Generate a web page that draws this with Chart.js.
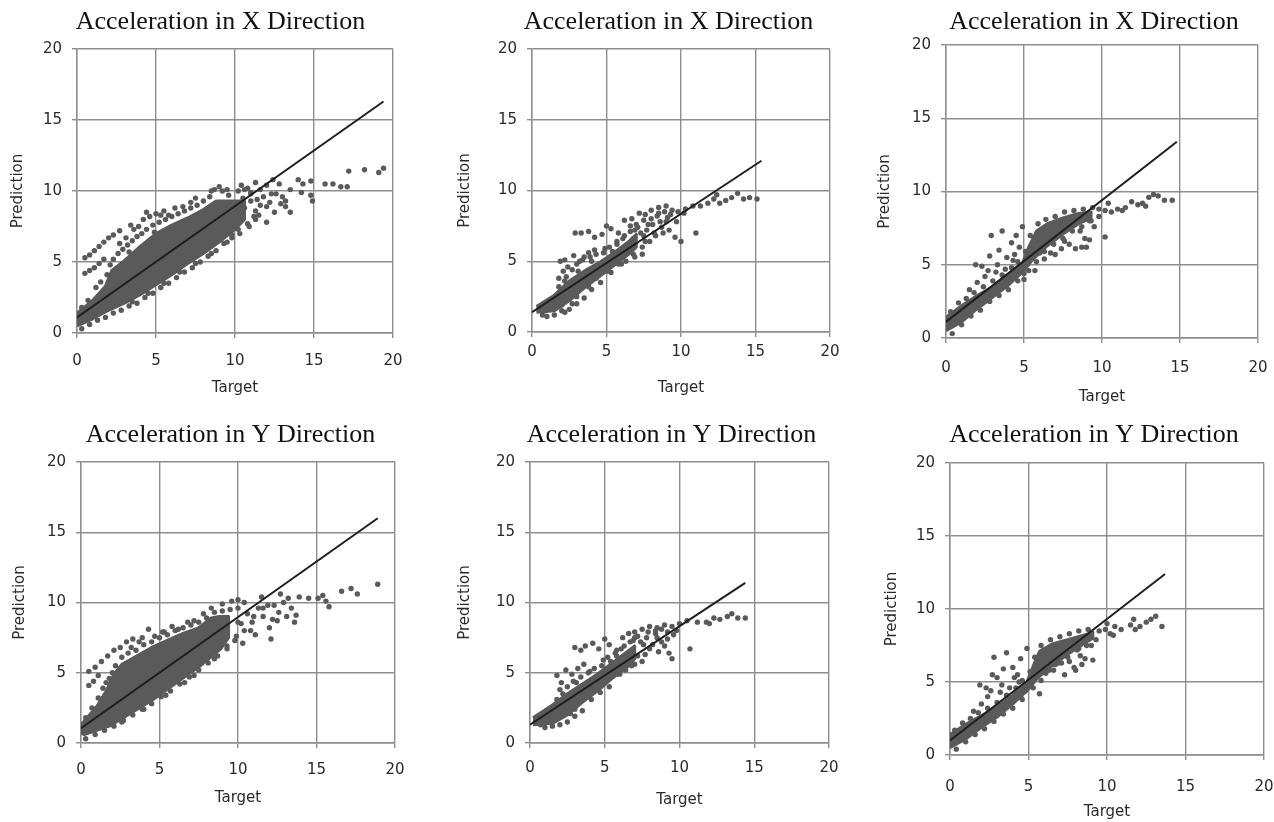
<!DOCTYPE html>
<html>
<head>
<meta charset="utf-8">
<script src="https://cdn.jsdelivr.net/npm/chart.js@4.4.1/dist/chart.umd.min.js"></script>
<style>
html, body { margin: 0; padding: 0; background: #fff; width: 1274px; height: 822px; overflow: hidden; }
canvas { position: absolute; }
</style>
</head>
<body>
<script>
// tick labels shared by both axes of every panel
const axisTicks = [0, 5, 10, 15, 20];
const titles = [
	'Acceleration in X Direction', 'Acceleration in X Direction', 'Acceleration in X Direction',
	'Acceleration in Y Direction', 'Acceleration in Y Direction', 'Acceleration in Y Direction'
];

// fitted lines [target, prediction]
const x1Trend = [[0, 1.1], [19.4, 16.3]];
const x2Trend = [[0, 1.4], [15.4, 12.1]];
const x3Trend = [[0, 1.1], [14.8, 13.4]];
const y1Trend = [[0, 1.05], [18.9, 16.0]];
const y2Trend = [[0, 1.3], [14.4, 11.4]];
const y3Trend = [[0, 1.0], [13.7, 12.4]];

// outline of the saturated part of each cloud (upper edge, then lower edge back)
const x1Dense = [[0, 1.4], [1, 2.3], [1.8, 3.3], [2.2, 4.4], [3, 5.1], [4, 6.1], [5, 7.0], [6, 7.6], [7, 8.1], [8, 8.7], [8.8, 9.3], [10, 9.3], [10.6, 9.3],
	[10.6, 8.0], [10, 7.3], [9, 6.4], [8, 5.6], [7, 4.9], [6, 4.1], [5, 3.4], [4, 2.7], [3, 2.1], [2, 1.6], [1, 1.0], [0, 0.5]];
const x2Dense = [[0.3, 1.8], [1.5, 2.6], [2.5, 3.6], [3.5, 4.3], [4.5, 4.9], [5.5, 5.6], [6.5, 6.4], [7.0, 6.9],
	[7.0, 6.0], [6.5, 5.5], [5.5, 4.7], [4.5, 3.9], [3.5, 3.1], [2.5, 2.2], [1.5, 1.5], [0.3, 1.4]];
const x3Dense = [[0, 1.4], [1, 2.2], [2, 2.9], [3, 3.5], [4, 4.3], [4.9, 5.1], [5.3, 6.2], [5.8, 7.3], [6.5, 7.8], [7.5, 8.2], [8.5, 8.5], [9.3, 8.6],
	[9.3, 8.2], [8.5, 7.8], [7.5, 7.1], [6.5, 6.3], [5.6, 5.4], [5, 4.6], [4, 3.6], [3, 2.8], [2, 2.0], [1, 1.1], [0, 0.5]];
const y1Dense = [[0, 1.3], [1, 2.6], [1.6, 3.7], [2.1, 4.9], [2.6, 5.6], [3.4, 6.1], [4.5, 6.8], [5.5, 7.3], [6.5, 7.8], [7.5, 8.2], [8.3, 8.9], [8.8, 9.0], [9.4, 9.0],
	[9.4, 7.5], [8.9, 6.7], [7.6, 5.5], [6.1, 4.3], [4.6, 3.1], [3.3, 2.2], [1.8, 1.2], [0.2, 0.6], [0, 0.7]];
const y2Dense = [[0.2, 1.8], [1.5, 2.7], [2.5, 3.5], [3.5, 4.2], [4.5, 4.9], [5.5, 5.7], [6.5, 6.5], [7.0, 6.9],
	[7.0, 6.0], [6.5, 5.4], [5.5, 4.6], [4.5, 3.7], [3.5, 2.9], [2.5, 2.0], [1.5, 1.4], [0.2, 1.3]];
const y3Dense = [[0, 1.4], [1, 2.1], [2, 2.7], [3, 3.3], [4, 4.1], [4.9, 5.0], [5.3, 6.1], [5.7, 7.1], [6.5, 7.6], [7.5, 7.9], [8.5, 8.2], [9.1, 8.4],
	[9.1, 8.0], [8.5, 7.6], [7.5, 6.9], [6.5, 6.1], [5.6, 5.3], [5, 4.5], [4, 3.5], [3, 2.6], [2, 1.9], [1, 1.1], [0, 0.5]];

// individual samples outside the saturated part
const x1Points = [[0.5, 5.3], [0.8, 5.5], [1.1, 5.8], [1.4, 6.1], [1.7, 6.4], [2.0, 6.7], [2.3, 6.9], [2.7, 7.2], [0.5, 4.2], [0.8, 4.4], [1.1, 4.6], [1.4, 4.9], [1.7, 5.2],
	[3.4, 7.6], [3.6, 7.3], [4.4, 8.5], [4.2, 8.0], [4.6, 8.2], [5.0, 8.4], [5.5, 8.6], [5.8, 8.3], [6.2, 8.8], [6.7, 8.9], [7.2, 9.2], [7.5, 9.5], [8.5, 10.0], [9.0, 10.3], [9.5, 10.1],
	[10.4, 10.4], [10.8, 10.2], [11.3, 10.6], [11.6, 10.1], [12.0, 10.4], [12.4, 10.8], [12.8, 10.5], [12.3, 9.8], [13.0, 9.6], [13.5, 10.1], [14.0, 10.8], [14.3, 10.5], [14.8, 10.7],
	[14.8, 9.7], [14.9, 9.3], [15.7, 10.5], [16.2, 10.5], [16.7, 10.3], [17.2, 11.4], [17.1, 10.3], [18.2, 11.5], [19.1, 11.3], [19.4, 11.6], [11.6, 9.0], [12.0, 7.8], [12.5, 8.5],
	[13.2, 8.9], [13.5, 8.5], [11.0, 9.3], [10.6, 8.8], [11.2, 8.2], [13.2, 9.3], [14.2, 9.9], [12.9, 9.1],
	[8.5, 5.6], [9.5, 6.4], [10.2, 7.3], [10.8, 7.7], [11.5, 8.3], [9.8, 6.9], [7.5, 4.9], [6.5, 4.3], [5.5, 3.5], [4.5, 2.8], [3.5, 2.2],
	[2.3, 5.2], [2.6, 5.6], [2.9, 5.9], [3.2, 6.2], [3.5, 6.5], [3.8, 6.8], [4.1, 7.0], [4.4, 7.3], [4.8, 7.6], [5.2, 7.8], [5.6, 8.0], [6.0, 8.2], [6.4, 8.4],
	[6.8, 8.6], [7.2, 8.8], [7.6, 9.0], [8.0, 9.3], [8.4, 9.6], [8.7, 10.1], [9.2, 10.0], [9.6, 9.7], [10.2, 10.0], [10.6, 10.1], [11.0, 9.8], [1.2, 3.2], [1.5, 3.6],
	[1.9, 4.1], [0.3, 1.8], [0.7, 2.3], [2.7, 6.3], [3.1, 6.7], [3.9, 7.5], [5.3, 8.3], [4.9, 7.1], [3.3, 5.7], [2.1, 4.8],
	[0.3, 0.3], [0.8, 0.6], [1.3, 0.9], [1.8, 1.1], [2.3, 1.4], [2.8, 1.6], [3.3, 1.9], [3.8, 2.1], [4.3, 2.5], [4.8, 2.8], [5.3, 3.2], [5.8, 3.5], [6.3, 3.9], [6.8, 4.3],
	[7.3, 4.6], [7.8, 5.0], [8.3, 5.4], [8.8, 5.8], [9.3, 6.3], [9.8, 6.7], [10.3, 7.0], [10.9, 7.5], [11.3, 8.0], [10.5, 9.5], [11.0, 9.9], [11.4, 9.4], [11.8, 9.6],
	[12.2, 9.2], [12.6, 9.8], [12.0, 8.9], [11.3, 8.6], [10.1, 8.6], [9.6, 7.4], [8.9, 6.6], [7.9, 5.7]];
const x2Points = [[1.9, 5.0], [2.2, 5.1], [2.4, 4.6], [2.1, 4.3], [1.8, 3.8], [2.8, 5.4], [3.2, 5.0], [3.5, 5.3], [3.8, 5.6], [4.2, 5.8], [2.9, 7.0], [3.3, 7.0], [3.8, 7.1], [4.2, 6.7],
	[4.7, 6.9], [5.0, 7.5], [5.3, 7.3], [5.8, 7.0], [6.2, 7.9], [6.7, 8.0], [7.2, 8.4], [7.6, 8.3], [8.0, 8.6], [8.5, 8.8], [9.0, 8.9], [9.4, 8.6], [9.8, 8.5], [10.3, 8.7],
	[10.8, 8.9], [11.3, 8.9], [11.8, 9.1], [12.2, 9.4], [12.6, 9.1], [13.0, 9.3], [13.4, 9.5], [13.8, 9.8], [14.2, 9.4], [14.6, 9.5], [15.1, 9.4], [12.4, 9.7], [11.0, 7.0],
	[10.0, 6.4], [9.6, 6.7], [9.2, 7.2], [8.7, 7.4], [8.2, 7.0], [7.9, 6.4], [7.4, 6.0], [6.8, 5.5], [6.0, 4.8], [5.3, 4.2], [4.6, 3.5], [4.0, 3.0], [3.5, 2.4], [3.0, 2.0],
	[2.5, 1.6], [2.0, 1.5], [1.5, 1.2], [1.0, 1.1], [0.7, 1.2], [5.6, 5.2], [6.4, 6.1], [7.5, 6.8], [8.4, 8.2], [9.1, 8.1], [9.7, 7.8], [10.2, 8.4], [6.9, 7.2], [6.1, 6.6],
	[5.4, 5.7], [4.4, 4.4], [3.7, 3.9], [3.0, 3.4], [2.4, 2.9], [1.6, 2.4], [7.0, 7.6], [7.8, 7.6], [6.6, 7.5], [5.7, 6.4], [4.9, 5.9], [4.0, 5.0], [3.1, 4.3], [2.2, 3.6],
	[1.8, 3.2], [2.3, 3.9], [2.7, 4.4], [3.0, 4.8], [3.4, 5.1], [3.9, 5.3], [4.3, 5.5], [4.8, 5.6], [5.2, 6.0], [5.7, 6.2], [6.2, 6.8], [6.6, 7.1], [7.1, 7.4], [7.5, 7.9],
	[8.0, 8.0], [8.5, 8.4], [8.9, 8.5], [9.3, 8.3], [7.7, 7.2], [8.1, 7.6], [3.0, 2.5], [3.8, 3.2], [4.3, 3.8], [5.0, 4.3], [5.8, 4.8], [6.3, 5.0], [6.9, 5.3], [7.4, 5.5],
	[2.7, 2.0], [2.0, 1.9], [1.2, 1.6], [0.9, 1.5], [2.2, 1.4], [7.3, 7.0], [6.8, 6.6], [7.6, 6.4], [8.3, 6.8], [8.8, 7.0], [9.0, 7.8], [8.6, 7.8]];
const x3Points = [[1.9, 5.0], [2.3, 4.9], [2.8, 5.6], [2.9, 7.0], [3.4, 6.0], [3.6, 7.3], [3.9, 5.5], [4.2, 6.5], [4.5, 7.0], [4.7, 6.2], [4.9, 7.6], [3.2, 4.5], [2.5, 4.2],
	[3.8, 4.7], [4.3, 5.3], [1.5, 3.3], [2.0, 3.8],
	[5.0, 4.0], [5.0, 4.4], [5.7, 4.6], [6.0, 5.8], [6.3, 5.4], [6.7, 5.8], [7.0, 5.7], [7.4, 6.1], [7.6, 6.6], [7.9, 6.4], [8.3, 6.1], [8.7, 6.2], [8.9, 6.8], [9.2, 6.7],
	[9.0, 6.2], [10.2, 6.9], [8.6, 7.3], [9.5, 7.6], [9.2, 8.0],
	[9.8, 8.8], [10.2, 8.7], [10.6, 8.6], [11.0, 8.8], [11.5, 8.9], [11.9, 9.3], [12.3, 9.1], [12.6, 9.2], [13.0, 9.6], [13.3, 9.8], [13.6, 9.7], [14.0, 9.4], [14.5, 9.4],
	[12.8, 9.0], [11.3, 8.7], [10.4, 9.2],
	[0.3, 1.8], [0.8, 2.4], [1.3, 2.7], [1.8, 3.1], [2.4, 3.5], [3.0, 3.9], [3.6, 4.3], [4.2, 4.8], [4.6, 5.2], [5.1, 5.9], [5.4, 7.0], [5.9, 7.8], [6.4, 8.1], [7.0, 8.3],
	[7.6, 8.6], [8.2, 8.7], [8.8, 8.8], [9.4, 8.9], [0.4, 0.3], [1.0, 0.9], [1.6, 1.5], [2.2, 1.9], [2.8, 2.5], [3.4, 2.9], [4.0, 3.3], [4.6, 3.9], [5.3, 4.6], [5.8, 5.2],
	[6.3, 5.9], [6.9, 6.4], [7.5, 6.8], [8.1, 7.3], [8.7, 7.6], [9.3, 8.0], [9.8, 8.3], [4.4, 5.7], [3.3, 5.0], [2.7, 4.6]];
const y1Points = [[0.5, 4.1], [0.8, 4.4], [1.1, 4.8], [0.5, 5.1], [0.9, 5.4], [1.3, 5.8], [1.7, 6.2], [2.1, 6.6], [2.5, 6.8], [2.9, 7.2], [3.3, 7.4], [3.7, 7.2], [4.3, 8.1],
	[4.7, 7.6], [5.3, 7.9], [5.8, 8.3], [6.2, 8.1], [6.8, 8.6], [7.2, 8.7], [7.8, 9.2], [8.3, 9.6], [9.0, 9.9], [9.6, 10.1], [10.0, 10.2], [10.4, 10.0],
	[10.2, 8.5], [10.6, 9.2], [10.9, 8.6], [11.3, 9.6], [11.6, 9.0], [11.9, 9.8], [12.2, 8.8], [12.0, 8.2], [12.6, 9.3], [12.9, 10.0], [13.4, 9.6], [13.7, 9.1], [13.6, 8.6],
	[13.9, 10.4], [13.2, 10.3], [14.5, 10.3], [15.1, 10.3], [15.4, 10.5], [15.6, 10.1], [15.8, 9.7], [16.6, 10.8], [17.2, 11.0], [17.6, 10.6], [18.9, 11.3], [12.1, 7.4],
	[11.1, 7.7], [10.3, 7.1], [10.8, 8.0], [9.9, 7.6], [11.5, 10.4], [12.7, 10.6],
	[8.5, 6.0], [9.3, 6.7], [7.2, 4.8], [6.6, 4.3], [5.4, 3.4], [4.0, 2.4], [2.6, 1.5],
	[0.3, 1.8], [0.7, 2.5], [1.1, 3.2], [1.4, 3.9], [1.8, 4.6], [2.2, 5.5], [2.6, 6.1], [3.0, 6.4], [3.5, 6.6], [4.0, 7.0], [4.5, 7.2], [5.0, 7.5], [5.5, 7.7], [6.0, 8.0],
	[6.5, 8.2], [7.0, 8.4], [7.5, 8.6], [8.0, 8.9], [8.5, 9.3], [9.0, 9.4], [9.5, 9.5], [10.0, 9.6], [3.2, 6.8], [3.9, 7.5], [5.2, 7.9], [2.0, 5.0], [1.6, 4.3],
	[0.3, 0.3], [0.9, 0.6], [1.5, 0.9], [2.1, 1.2], [2.7, 1.6], [3.3, 2.0], [3.9, 2.4], [4.5, 2.8], [5.1, 3.3], [5.7, 3.7], [6.3, 4.2], [6.9, 4.7], [7.5, 5.2], [8.1, 5.7],
	[8.7, 6.2], [9.3, 6.9], [9.8, 7.3], [10.4, 8.0], [10.0, 8.6], [11.0, 9.0], [11.6, 9.6], [12.3, 9.8], [12.5, 8.7], [13.1, 9.0]];
const y2Points = [[1.8, 4.8], [2.1, 4.3], [2.4, 5.2], [2.0, 3.8], [2.8, 4.9], [3.2, 5.3], [3.6, 5.6], [3.0, 6.8], [3.4, 6.6], [3.7, 6.9], [4.2, 7.1], [4.6, 6.7], [5.0, 7.4],
	[5.3, 7.0], [5.8, 6.6], [6.2, 7.5], [6.6, 7.8], [7.0, 7.9], [7.5, 8.1], [8.0, 8.3], [8.5, 8.2], [9.0, 8.4], [9.5, 8.3], [10.0, 8.5], [10.5, 8.7], [11.2, 8.6], [11.8, 8.6],
	[12.3, 8.9], [12.7, 8.8], [13.2, 9.0], [13.5, 9.2], [13.9, 8.9], [14.4, 8.9], [12.0, 8.5], [10.7, 6.7], [9.5, 6.0], [9.3, 6.4], [9.0, 6.9], [8.6, 6.5], [8.2, 7.0],
	[7.7, 6.3], [7.2, 6.2], [6.8, 5.5], [6.0, 4.9], [5.3, 4.0], [4.7, 3.6], [4.1, 3.1], [3.5, 2.3], [3.0, 1.9], [2.5, 1.5], [2.0, 1.3], [1.5, 1.2], [1.0, 1.1], [0.7, 1.3],
	[5.6, 5.3], [6.4, 6.2], [7.6, 7.0], [8.4, 7.8], [9.2, 7.9], [9.8, 8.0], [6.9, 7.3], [6.1, 6.7], [5.4, 5.8], [4.4, 4.7], [3.7, 4.0], [2.9, 3.3], [2.3, 2.8], [1.6, 2.3],
	[7.0, 7.5], [7.8, 7.5], [5.7, 6.4], [4.9, 5.9], [4.0, 5.1], [3.1, 4.3], [2.2, 3.5],
	[1.8, 3.1], [2.5, 4.0], [2.9, 4.4], [3.4, 4.7], [3.9, 5.0], [4.3, 5.3], [4.8, 5.5], [5.2, 6.1], [5.8, 6.2], [6.3, 6.9], [6.7, 7.2], [7.2, 7.6], [7.9, 7.9], [8.4, 8.0],
	[8.8, 8.1], [3.0, 2.4], [3.8, 3.3], [4.4, 3.8], [5.0, 4.4], [5.8, 4.9], [6.4, 5.2], [7.0, 5.6], [7.5, 5.8], [2.7, 2.1], [1.9, 1.8], [1.2, 1.6], [0.9, 1.4],
	[7.4, 7.2], [8.0, 6.7], [8.8, 7.2], [9.2, 7.4], [9.6, 7.7], [8.5, 7.5]];
const y3Points = [[1.9, 4.8], [2.3, 4.6], [2.7, 5.5], [2.8, 6.7], [3.4, 5.9], [3.6, 7.0], [4.0, 6.0], [4.1, 5.3], [4.5, 6.6], [4.9, 7.3], [3.2, 4.3], [2.4, 4.0], [3.8, 4.6],
	[4.4, 5.0], [1.5, 3.0], [2.0, 3.5], [3.0, 5.3],
	[4.5, 4.0], [4.8, 4.4], [5.7, 4.2], [6.1, 5.6], [6.6, 5.8], [6.7, 6.2], [7.1, 6.3], [7.6, 6.4], [7.9, 6.0], [8.0, 5.8], [8.3, 6.8], [8.6, 6.6], [8.4, 6.2], [7.3, 5.5],
	[9.1, 6.5], [8.2, 7.3], [9.0, 7.5],
	[9.5, 8.5], [9.9, 8.6], [10.2, 8.3], [10.5, 8.8], [10.4, 8.2], [11.5, 8.9], [11.8, 8.6], [11.7, 9.3], [12.5, 9.1], [12.8, 9.3], [13.1, 9.5], [13.5, 8.8], [12.1, 8.8],
	[10.9, 8.6], [10.0, 9.0],
	[0.3, 1.7], [0.8, 2.2], [1.3, 2.5], [1.8, 2.9], [2.4, 3.2], [3.0, 3.6], [3.6, 4.1], [4.2, 4.6], [4.6, 5.1], [5.1, 5.7], [5.4, 6.7], [5.8, 7.5], [6.4, 7.9], [7.0, 8.1],
	[7.6, 8.3], [8.2, 8.5], [8.8, 8.6], [0.4, 0.4], [1.0, 0.9], [1.6, 1.4], [2.2, 1.8], [2.8, 2.3], [3.4, 2.8], [4.0, 3.2], [4.6, 3.8], [5.3, 4.6], [5.8, 5.1], [6.3, 5.8],
	[6.9, 6.3], [7.5, 6.7], [8.1, 7.2], [8.7, 7.5], [9.3, 7.9], [4.3, 5.5], [3.3, 4.8], [2.6, 4.4]];

const trends = [x1Trend, x2Trend, x3Trend, y1Trend, y2Trend, y3Trend];
const denses = [x1Dense, x2Dense, x3Dense, y1Dense, y2Dense, y3Dense];
const points = [x1Points, x2Points, x3Points, y1Points, y2Points, y3Points];

// where each plot area sits on the page
const panels = [
	{L: 77, T: 49, R: 393, B: 333, titleC: 220.5, gap: 27, yTitlePad: 8, xTickPad: 14.5, xTitlePad: 6},
	{L: 532, T: 49, R: 830, B: 332, titleC: 668.5, gap: 27, yTitlePad: 0, xTickPad: 6, xTitlePad: 5},
	{L: 946, T: 45, R: 1258, B: 338, titleC: 1094, gap: 23, yTitlePad: 6, xTickPad: 16, xTitlePad: 2},
	{L: 81, T: 462, R: 395, B: 743, titleC: 230.5, gap: 27, yTitlePad: 6, xTickPad: 13, xTitlePad: 6},
	{L: 530, T: 462, R: 829, B: 743, titleC: 671.5, gap: 27, yTitlePad: 2, xTickPad: 11, xTitlePad: 4},
	{L: 950, T: 463, R: 1264, B: 755, titleC: 1094, gap: 28, yTitlePad: 9, xTickPad: 18, xTitlePad: 4}
];

const gridColor = '#8e8e8e';
const dotColor = '#5a5a5a';
const labelFont = {family: 'DejaVu Sans', size: 15};

function toXY(arr) {
	return arr.map(function(p) { return {x: p[0], y: p[1]}; });
}

function axisBase() {
	return {
		type: 'linear',
		min: 0,
		max: 20,
		afterBuildTicks: function(scale) {
			scale.ticks = axisTicks.map(v => ({value: v}));
		},
		grid: {color: gridColor, lineWidth: 1.4, tickLength: 5, tickColor: gridColor},
		border: {color: gridColor, width: 1.4}
	};
}

panels.forEach(function(p, i) {
	var left = p.L - 76;
	var top = p.T - 50;
	var w = Math.round(2 * (p.titleC - left));
	var h = (p.B - p.T) + 50 + 70;
	var rightPad = left + w - p.R;

	var cv = document.createElement('canvas');
	cv.width = w;
	cv.height = h;
	cv.style.left = left + 'px';
	cv.style.top = top + 'px';
	document.body.appendChild(cv);

	var titleTop = 50 - p.gap - 15.6;
	var xScale = axisBase();
	xScale.position = 'bottom';
	xScale.ticks = {color: '#2a2a2a', font: labelFont, padding: p.xTickPad, maxRotation: 0};
	xScale.title = {display: true, text: 'Target', color: '#2a2a2a', font: labelFont, padding: {top: 0, bottom: p.xTitlePad}};
	xScale.afterFit = function(scale) { scale.height = 70; };

	var yScale = axisBase();
	yScale.position = 'left';
	yScale.ticks = {color: '#2a2a2a', font: labelFont, padding: 10};
	yScale.title = {display: true, text: 'Prediction', color: '#2a2a2a', font: labelFont, padding: {top: p.yTitlePad, bottom: 0}};
	yScale.afterFit = function(scale) { scale.width = 76; };

	new Chart(cv, {
		type: 'scatter',
		data: {
			datasets: [
				{
					type: 'line',
					data: toXY(trends[i]),
					borderColor: '#1e1e1e',
					borderWidth: 2,
					pointRadius: 0,
					fill: false
				},
				{
					data: toXY(points[i]),
					backgroundColor: dotColor,
					borderWidth: 0,
					pointRadius: 2.7
				},
				{
					type: 'line',
					data: toXY(denses[i]),
					borderColor: dotColor,
					backgroundColor: dotColor,
					borderWidth: 3,
					borderJoinStyle: 'round',
					pointRadius: 0,
					tension: 0,
					fill: 'shape'
				}
			]
		},
		options: {
			responsive: false,
			animation: false,
			events: [],
			layout: {padding: 0},
			plugins: {
				legend: {display: false},
				tooltip: {enabled: false},
				title: {
					display: true,
					text: titles[i],
					color: '#111',
					font: {family: 'Liberation Serif', size: 26, weight: 'normal', lineHeight: 1.2},
					padding: {top: titleTop, bottom: 50 - 31.2 - titleTop}
				}
			},
			scales: {
				x: xScale,
				y: yScale,
				pad: {
					type: 'linear',
					position: 'right',
					min: 0,
					max: 1,
					grid: {display: false},
					ticks: {display: false},
					border: {display: false},
					afterFit: function(scale) { scale.width = rightPad; }
				}
			}
		}
	});
});
</script>
</body>
</html>
